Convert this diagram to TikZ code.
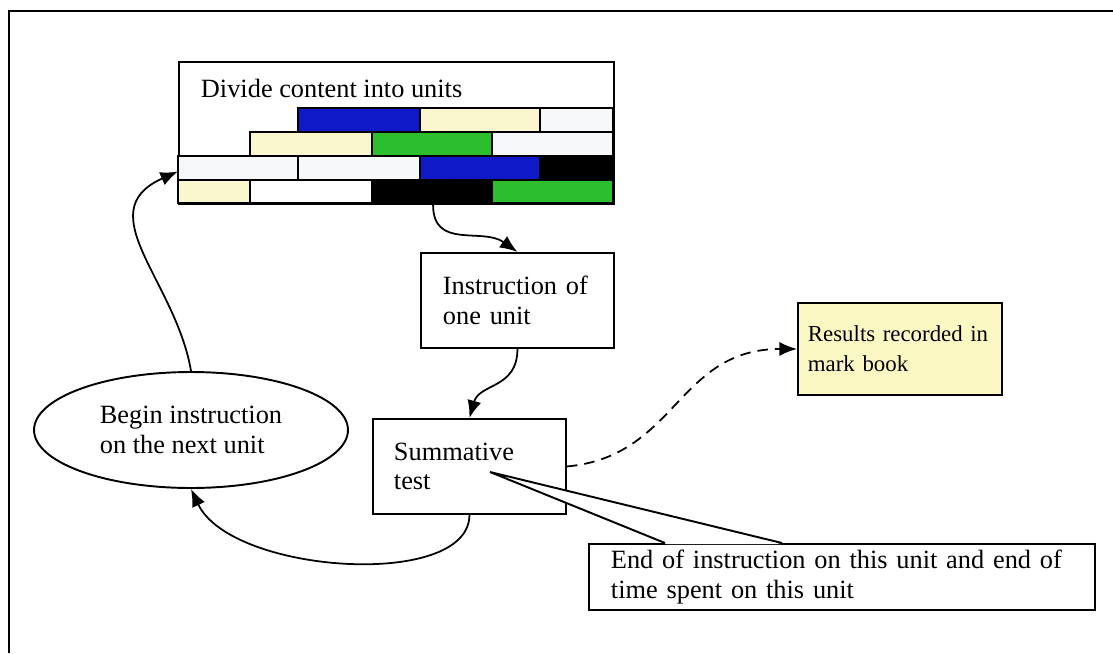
\documentclass[tikz,border=0pt]{standalone}
\usepackage{fontspec}
\setmainfont{Liberation Serif}
\usetikzlibrary{arrows.meta,calc,shapes.geometric}
\tikzset{>={Latex[length=10pt,width=8pt]}}

\definecolor{unitblue}{RGB}{15,25,200}
\definecolor{unitcream}{RGB}{250,246,205}
\definecolor{unitgreen}{RGB}{45,190,45}
\definecolor{unitwhite}{RGB}{246,248,250}
\definecolor{notefill}{RGB}{252,248,196}

\begin{document}
\begin{tikzpicture}[x=0.02cm, y=-0.02cm, line width=1.1pt,
    font=\fontsize{15}{17}\selectfont,
    box/.style={draw, anchor=north west, align=left, inner ysep=0pt},
    bar/.style={draw, line width=1.1pt},
    curve/.style={->, line width=1pt}]
    \useasboundingbox (0,0) rectangle (1113,653);
    \draw[line width=1.3pt] (9,653) -- (9,11) -- (1113,11);

    % content split into units
    \node[draw, anchor=north west, minimum width=8.7cm, minimum height=2.84cm, inner sep=0pt] (divide) at (178,61) {};
    \node[anchor=base west, inner sep=0pt] (divtitle) at ($(divide.north west)+(22,36)$) {Divide content into units};
    \foreach \xa/\xb/\ya/\yb/\col in {298/420/108/132/unitblue, 420/540/108/132/unitcream, 540/613/108/132/unitwhite,
        250/372/132/156/unitcream, 372/492/132/156/unitgreen, 492/613/132/156/unitwhite,
        178/298/156/180/unitwhite, 298/420/156/180/unitwhite, 420/540/156/180/unitblue, 540/613/156/180/black,
        178/250/180/203/unitcream, 250/372/180/203/white, 372/492/180/203/black, 492/613/180/203/unitgreen}
        \draw[bar, fill=\col] (\xa,\ya) rectangle (\xb,\yb);

    \node[box, minimum width=3.86cm, minimum height=1.9cm, text width=2.98cm, inner xsep=0.44cm] (instr) at (420,252) {Instruction of\\one unit};
    \node[box, minimum width=3.86cm, minimum height=1.9cm, text width=3.02cm, inner xsep=0.42cm] (summ) at (372,418) {Summative\\test};
    \node[box, fill=notefill, minimum width=4.08cm, minimum height=1.84cm, text width=3.68cm, inner xsep=0.2cm,
        font=\fontsize{13}{17}\selectfont] (results) at (797,302) {Results recorded in\\mark book};
    \node[box, minimum width=10.12cm, minimum height=1.32cm, text width=9.24cm, inner xsep=0.44cm] (endbox) at (588,543) {End of instruction on this unit and end of\\time spent on this unit};
    \node[draw, ellipse, minimum width=6.28cm, minimum height=2.32cm, align=left, inner sep=0pt] (begin) at (191,430) {Begin instruction\\on the next unit};

    % cycle
    \draw[curve] (divide.-63) .. controls +(0,45) and +(-35,-25) .. (instr.north);
    \draw[curve] (instr.south) .. controls +(0,40) and +(10,-35) .. (summ.north);
    \draw[curve] (summ.south) .. controls +(0,75) and +(40,85) .. (begin.south);
    \draw[curve] (begin.north) .. controls +(-15,-90) and +(-90,40) .. (divide.190);
    \draw[curve, dash pattern=on 6pt off 4pt] (summ.east) .. controls +(110,-10) and +(-120,0) .. (results.west);

    % callout
    \coordinate (calltip) at (490,472);
    \fill[white] (calltip) -- ($(endbox.north west)+(78,1)$) -- ($(endbox.north west)+(193,1)$) -- cycle;
    \draw ($(endbox.north west)+(77,0)$) -- (calltip) -- ($(endbox.north west)+(194,0)$);
\end{tikzpicture}
\end{document}
